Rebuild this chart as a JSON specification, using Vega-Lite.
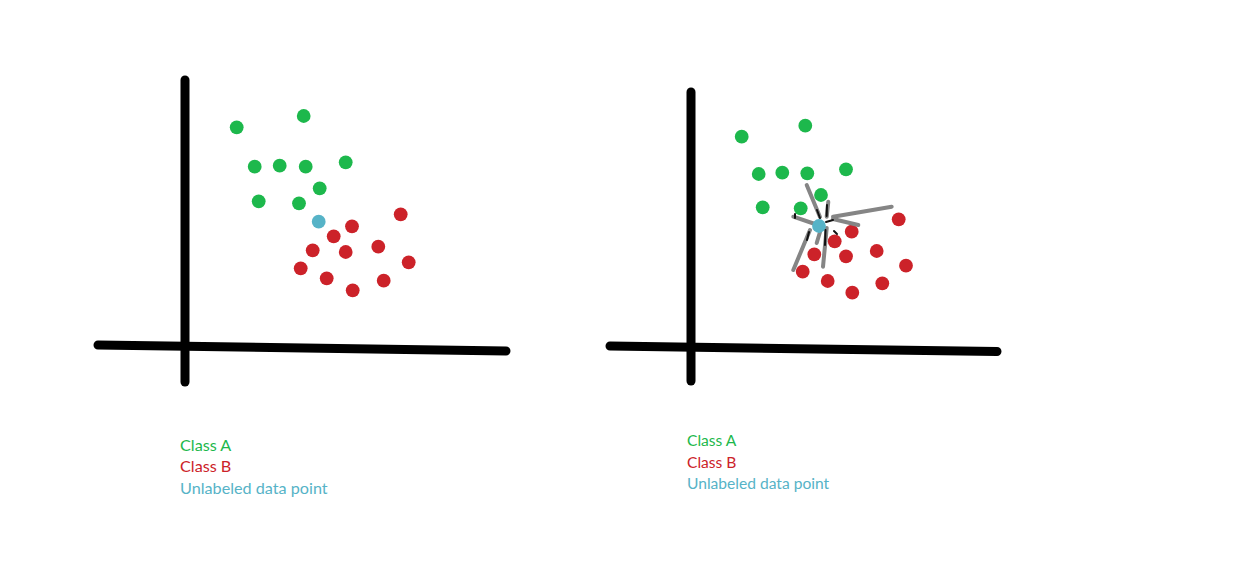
{
  "$schema": "https://vega.github.io/schema/vega-lite/v6.json",
  "width": 1241,
  "height": 581,
  "autosize": {"type": "fit", "contains": "padding"},
  "padding": 0,
  "background": "white",
  "config": {"view": {"stroke": null}},
  "datasets": {
    "points": [
      {"panel": "left", "cls": "Class A", "x": 236.7, "y": 127.3},
      {"panel": "left", "cls": "Class A", "x": 303.7, "y": 116},
      {"panel": "left", "cls": "Class A", "x": 254.7, "y": 166.7},
      {"panel": "left", "cls": "Class A", "x": 279.7, "y": 165.7},
      {"panel": "left", "cls": "Class A", "x": 305.7, "y": 166.7},
      {"panel": "left", "cls": "Class A", "x": 345.7, "y": 162.3},
      {"panel": "left", "cls": "Class A", "x": 319.7, "y": 188.3},
      {"panel": "left", "cls": "Class A", "x": 258.7, "y": 201.3},
      {"panel": "left", "cls": "Class A", "x": 299, "y": 203.3},
      {"panel": "left", "cls": "Unlabeled", "x": 318.7, "y": 221.7},
      {"panel": "left", "cls": "Class B", "x": 400.7, "y": 214.3},
      {"panel": "left", "cls": "Class B", "x": 352, "y": 226.3},
      {"panel": "left", "cls": "Class B", "x": 333.7, "y": 236.3},
      {"panel": "left", "cls": "Class B", "x": 312.7, "y": 250.3},
      {"panel": "left", "cls": "Class B", "x": 345.7, "y": 252},
      {"panel": "left", "cls": "Class B", "x": 378.3, "y": 246.7},
      {"panel": "left", "cls": "Class B", "x": 408.7, "y": 262.3},
      {"panel": "left", "cls": "Class B", "x": 300.7, "y": 268.3},
      {"panel": "left", "cls": "Class B", "x": 326.7, "y": 278.3},
      {"panel": "left", "cls": "Class B", "x": 352.7, "y": 290.3},
      {"panel": "left", "cls": "Class B", "x": 383.7, "y": 280.7},
      {"panel": "right", "cls": "Class A", "x": 741.7, "y": 136.7},
      {"panel": "right", "cls": "Class A", "x": 805.3, "y": 125.7},
      {"panel": "right", "cls": "Class A", "x": 758.7, "y": 174},
      {"panel": "right", "cls": "Class A", "x": 782.3, "y": 172.7},
      {"panel": "right", "cls": "Class A", "x": 807.3, "y": 173.3},
      {"panel": "right", "cls": "Class A", "x": 846, "y": 169.3},
      {"panel": "right", "cls": "Class A", "x": 821, "y": 195},
      {"panel": "right", "cls": "Class A", "x": 762.7, "y": 207.3},
      {"panel": "right", "cls": "Class A", "x": 800.7, "y": 208.3},
      {"panel": "right", "cls": "Class B", "x": 898.7, "y": 219.3},
      {"panel": "right", "cls": "Class B", "x": 851.7, "y": 231.7},
      {"panel": "right", "cls": "Class B", "x": 834.7, "y": 241.3},
      {"panel": "right", "cls": "Class B", "x": 814.3, "y": 254.3},
      {"panel": "right", "cls": "Class B", "x": 846, "y": 256.3},
      {"panel": "right", "cls": "Class B", "x": 876.7, "y": 251},
      {"panel": "right", "cls": "Class B", "x": 906, "y": 265.7},
      {"panel": "right", "cls": "Class B", "x": 802.7, "y": 271.7},
      {"panel": "right", "cls": "Class B", "x": 827.7, "y": 281},
      {"panel": "right", "cls": "Class B", "x": 852.3, "y": 292.7},
      {"panel": "right", "cls": "Class B", "x": 882.3, "y": 283.3}
    ],
    "blue": [
      {"panel": "right", "cls": "Unlabeled", "x": 819, "y": 226}
    ],
    "axes": [
      {"x": 185, "y": 80, "x2": 185, "y2": 382},
      {"x": 98, "y": 345, "x2": 506, "y2": 351},
      {"x": 691, "y": 92, "x2": 691, "y2": 381},
      {"x": 610, "y": 346, "x2": 997, "y2": 351.5}
    ],
    "links": [
      {"x": 806.7, "y": 185, "x2": 820, "y2": 217},
      {"x": 833, "y": 216.7, "x2": 891.7, "y2": 206.7},
      {"x": 833, "y": 219, "x2": 858.3, "y2": 225},
      {"x": 793.3, "y": 216.7, "x2": 815, "y2": 224},
      {"x": 793.3, "y": 270, "x2": 810, "y2": 230},
      {"x": 823, "y": 266.7, "x2": 826.7, "y2": 228},
      {"x": 816.7, "y": 243, "x2": 820, "y2": 232},
      {"x": 828.3, "y": 201.7, "x2": 826.7, "y2": 216.7}
    ],
    "tips": [
      {"x": 817, "y": 210, "x2": 820, "y2": 218},
      {"x": 827, "y": 205, "x2": 826.7, "y2": 216},
      {"x": 826, "y": 222, "x2": 833, "y2": 220},
      {"x": 795, "y": 214, "x2": 795, "y2": 218},
      {"x": 809, "y": 232, "x2": 807, "y2": 240},
      {"x": 825.5, "y": 230, "x2": 825, "y2": 245},
      {"x": 834, "y": 231, "x2": 837, "y2": 234}
    ],
    "labels": [
      {"panel": "left", "cls": "Class A", "text": "Class A", "x": 180, "y": 446},
      {"panel": "left", "cls": "Class B", "text": "Class B", "x": 180, "y": 467},
      {"panel": "left", "cls": "Unlabeled", "text": "Unlabeled data point", "x": 180, "y": 489},
      {"panel": "right", "cls": "Class A", "text": "Class A", "x": 687, "y": 441},
      {"panel": "right", "cls": "Class B", "text": "Class B", "x": 687, "y": 462.5},
      {"panel": "right", "cls": "Unlabeled", "text": "Unlabeled data point", "x": 687, "y": 484}
    ]
  },
  "layer": [
    {
      "data": {"name": "axes"},
      "mark": {"type": "rule", "color": "black", "strokeWidth": 9, "strokeCap": "round"},
      "encoding": {
        "x": {"field": "x", "type": "quantitative", "scale": {"domain": [0, 1241], "nice": false, "zero": false}, "axis": null},
        "y": {"field": "y", "type": "quantitative", "scale": {"domain": [0, 581], "nice": false, "zero": false, "reverse": true}, "axis": null},
        "x2": {"field": "x2"},
        "y2": {"field": "y2"}
      }
    },
    {
      "data": {"name": "points"},
      "mark": {"type": "circle", "size": 190, "opacity": 1},
      "encoding": {
        "x": {"field": "x", "type": "quantitative", "scale": {"domain": [0, 1241], "nice": false, "zero": false}, "axis": null},
        "y": {"field": "y", "type": "quantitative", "scale": {"domain": [0, 581], "nice": false, "zero": false, "reverse": true}, "axis": null},
        "color": {"field": "cls", "type": "nominal", "scale": {"domain": ["Class A", "Class B", "Unlabeled"], "range": ["#1db84c", "#cc2229", "#56b3c7"]}, "legend": null}
      }
    },
    {
      "data": {"name": "links"},
      "mark": {"type": "rule", "color": "#858585", "strokeWidth": 4, "strokeCap": "round"},
      "encoding": {
        "x": {"field": "x", "type": "quantitative", "scale": {"domain": [0, 1241], "nice": false, "zero": false}, "axis": null},
        "y": {"field": "y", "type": "quantitative", "scale": {"domain": [0, 581], "nice": false, "zero": false, "reverse": true}, "axis": null},
        "x2": {"field": "x2"},
        "y2": {"field": "y2"}
      }
    },
    {
      "data": {"name": "blue"},
      "mark": {"type": "circle", "size": 190, "opacity": 1},
      "encoding": {
        "x": {"field": "x", "type": "quantitative", "scale": {"domain": [0, 1241], "nice": false, "zero": false}, "axis": null},
        "y": {"field": "y", "type": "quantitative", "scale": {"domain": [0, 581], "nice": false, "zero": false, "reverse": true}, "axis": null},
        "color": {"field": "cls", "type": "nominal", "scale": {"domain": ["Class A", "Class B", "Unlabeled"], "range": ["#1db84c", "#cc2229", "#56b3c7"]}, "legend": null}
      }
    },
    {
      "data": {"name": "tips"},
      "mark": {"type": "rule", "color": "#111111", "strokeWidth": 2, "strokeCap": "round"},
      "encoding": {
        "x": {"field": "x", "type": "quantitative", "scale": {"domain": [0, 1241], "nice": false, "zero": false}, "axis": null},
        "y": {"field": "y", "type": "quantitative", "scale": {"domain": [0, 581], "nice": false, "zero": false, "reverse": true}, "axis": null},
        "x2": {"field": "x2"},
        "y2": {"field": "y2"}
      }
    },
    {
      "data": {"name": "labels"},
      "mark": {"type": "text", "align": "left", "baseline": "middle", "font": "Lato"},
      "encoding": {
        "x": {"field": "x", "type": "quantitative", "scale": {"domain": [0, 1241], "nice": false, "zero": false}, "axis": null},
        "y": {"field": "y", "type": "quantitative", "scale": {"domain": [0, 581], "nice": false, "zero": false, "reverse": true}, "axis": null},
        "text": {"field": "text"},
        "size": {"field": "panel", "type": "nominal", "scale": {"domain": ["left", "right"], "range": [16.2, 15.6]}, "legend": null},
        "color": {"field": "cls", "type": "nominal", "scale": {"domain": ["Class A", "Class B", "Unlabeled"], "range": ["#1db84c", "#cc2229", "#46b2c6"]}, "legend": null}
      }
    }
  ]
}
